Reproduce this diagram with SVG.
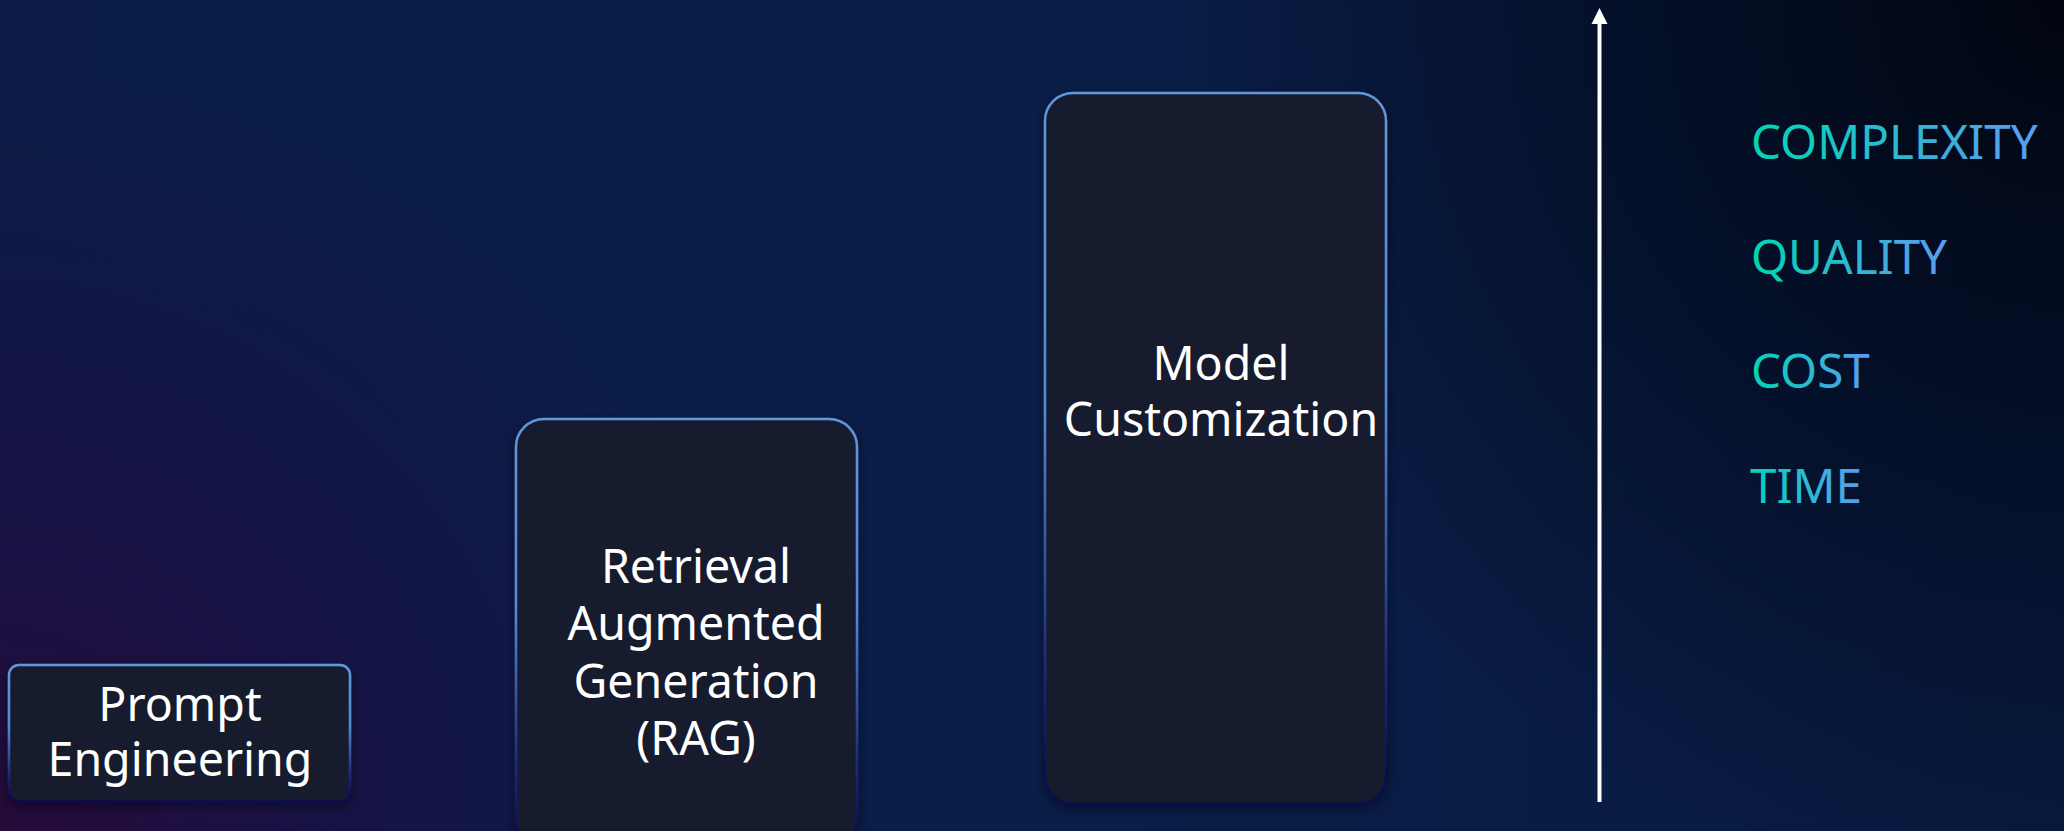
<svg xmlns="http://www.w3.org/2000/svg" width="2064" height="831" viewBox="0 0 2064 831">
  <defs>
    <linearGradient id="bgBase" x1="0" y1="0" x2="1" y2="0">
      <stop offset="0" stop-color="#0b1d46"/>
      <stop offset="0.5" stop-color="#0a1e48"/>
      <stop offset="1" stop-color="#081a40"/>
    </linearGradient>
    <radialGradient id="bgCorner" cx="2064" cy="0" r="900" gradientUnits="userSpaceOnUse">
      <stop offset="0" stop-color="#01050f" stop-opacity="1"/>
      <stop offset="0.45" stop-color="#020a1c" stop-opacity="0.7"/>
      <stop offset="1" stop-color="#020a1c" stop-opacity="0"/>
    </radialGradient>
    <radialGradient id="bgPurple" cx="0" cy="831" r="760" gradientUnits="userSpaceOnUse">
      <stop offset="0" stop-color="#260a3a" stop-opacity="1"/>
      <stop offset="0.5" stop-color="#1a1045" stop-opacity="0.7"/>
      <stop offset="1" stop-color="#1a1045" stop-opacity="0"/>
    </radialGradient>
    <linearGradient id="edge" x1="0" y1="0" x2="0" y2="1">
      <stop offset="0" stop-color="#6296de"/>
      <stop offset="0.45" stop-color="#5189d8"/>
      <stop offset="0.8" stop-color="#1e2a78"/>
      <stop offset="1" stop-color="#08084a"/>
    </linearGradient>
    <linearGradient id="labelFill" x1="0" y1="0" x2="1" y2="0">
      <stop offset="0" stop-color="#00d6b2"/>
      <stop offset="1" stop-color="#5b9cf0"/>
    </linearGradient>
    <filter id="shadow" x="-10%" y="-10%" width="120%" height="120%">
      <feDropShadow dx="0" dy="4" stdDeviation="6" flood-color="#000010" flood-opacity="0.5"/>
    </filter>
  </defs>
  <style>
    .box { fill: #191e2d; stroke: url(#edge); stroke-width: 2.5; filter: url(#shadow); }
    .txt { font-family: "Noto Sans", "Open Sans", sans-serif; font-size: 46.5px; fill: #ffffff; text-anchor: middle; }
    .lbl { font-family: "Noto Sans", "Open Sans", sans-serif; font-size: 47.5px; fill: url(#labelFill); }
  </style>

  <!-- background -->
  <rect x="0" y="0" width="2064" height="831" fill="url(#bgBase)"/>
  <rect x="0" y="0" width="2064" height="831" fill="url(#bgPurple)"/>
  <rect x="0" y="0" width="2064" height="831" fill="url(#bgCorner)"/>

  <g id="prompt-engineering">
    <rect class="box" x="9" y="665" width="341" height="136" rx="10"/>
    <text class="txt" x="180" y="721">Prompt</text>
    <text class="txt" x="180" y="776">Engineering</text>
  </g>

  <g id="rag">
    <rect class="box" x="516" y="419" width="341" height="430" rx="28"/>
    <text class="txt" x="696" y="583">Retrieval</text>
    <text class="txt" x="696" y="640">Augmented</text>
    <text class="txt" x="696" y="698">Generation</text>
    <text class="txt" x="696" y="755">(RAG)</text>
  </g>

  <g id="model-customization">
    <rect class="box" x="1045" y="93" width="341" height="711" rx="28"/>
    <text class="txt" x="1221" y="380">Model</text>
    <text class="txt" x="1221" y="436">Customization</text>
  </g>

  <g id="connectors">
    <line x1="1599.5" y1="802" x2="1599.5" y2="22" stroke="#ffffff" stroke-width="4"/>
    <polygon points="1599.5,8 1591.5,24 1607.5,24" fill="#ffffff"/>
  </g>

  <g id="axis-labels">
    <text class="lbl" x="1751" y="159">COMPLEXITY</text>
    <text class="lbl" x="1751" y="274">QUALITY</text>
    <text class="lbl" x="1751" y="388">COST</text>
    <text class="lbl" x="1750" y="503">TIME</text>
  </g>
</svg>
